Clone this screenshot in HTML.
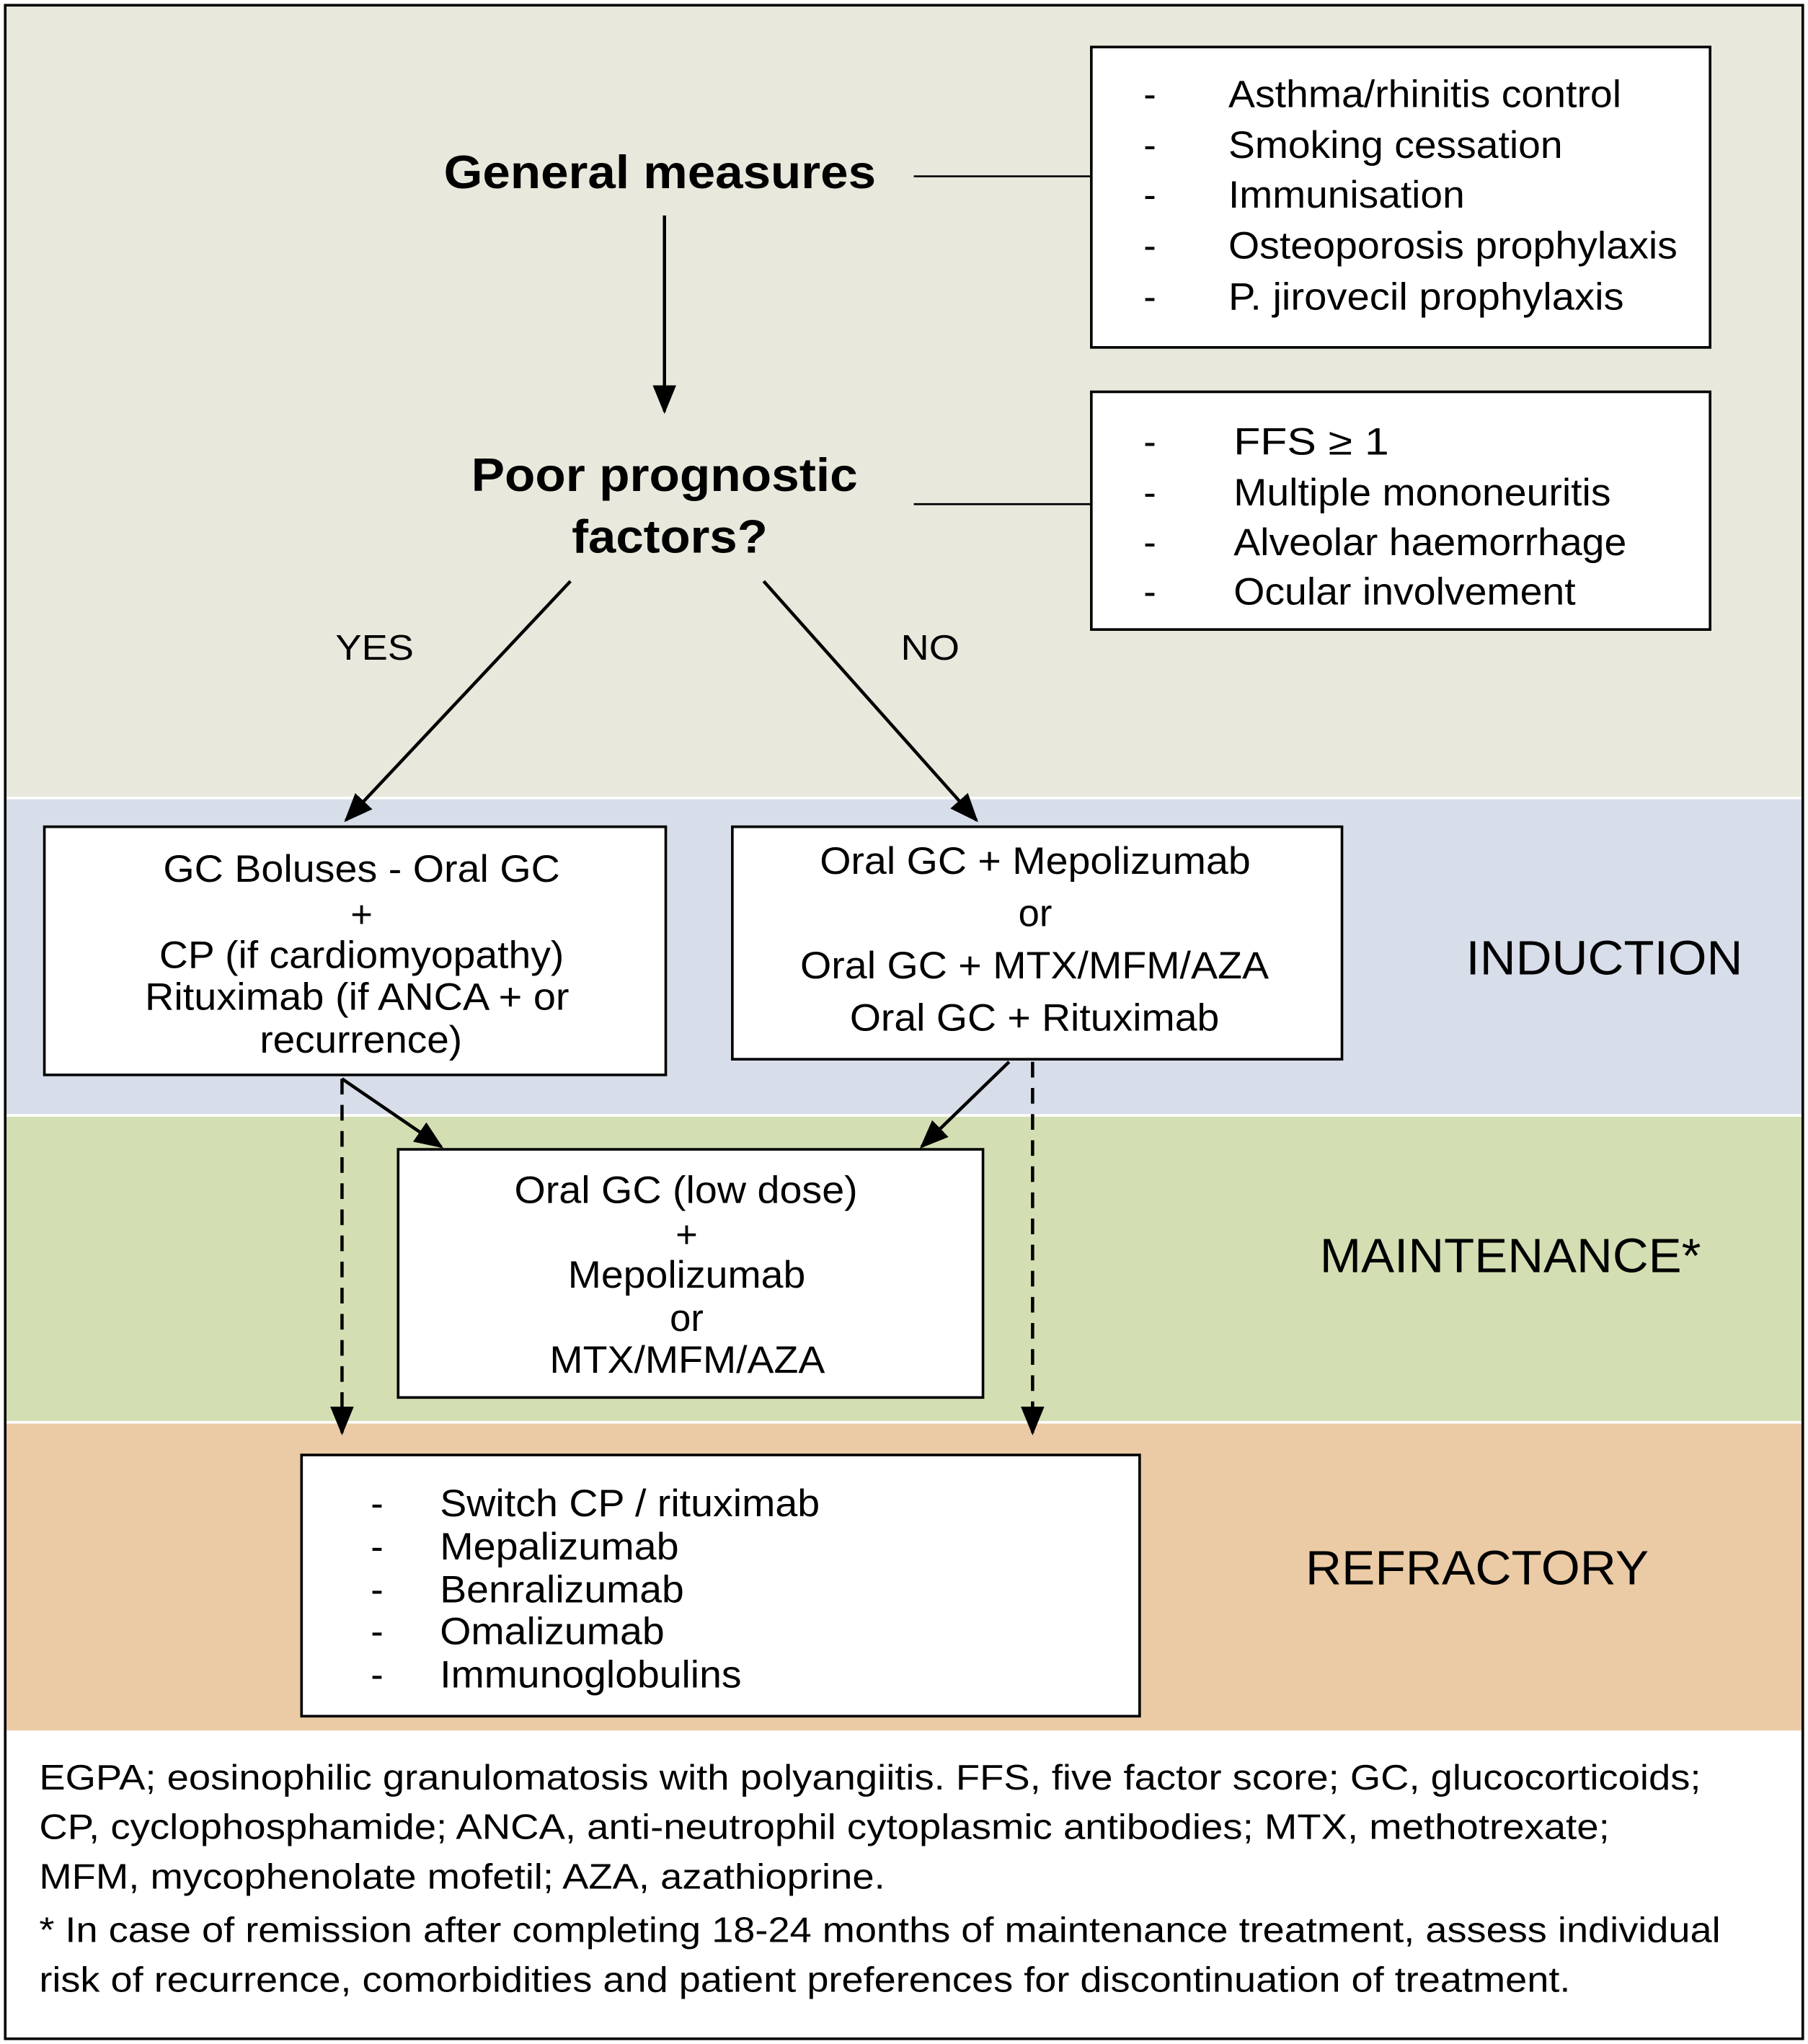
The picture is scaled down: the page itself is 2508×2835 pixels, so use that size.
<!DOCTYPE html>
<html><head><meta charset="utf-8"><style>
html,body{margin:0;padding:0;background:#fff}
svg{display:block}
text{font-family:"Liberation Sans",Arial,sans-serif;fill:#000}
</style></head><body>
<svg width="2508" height="2835" viewBox="0 0 1385 1565" preserveAspectRatio="none" xmlns="http://www.w3.org/2000/svg">
<defs>
<marker id="ah2" markerWidth="22" markerHeight="22" refX="20" refY="11" orient="auto" markerUnits="userSpaceOnUse" viewBox="0 0 22 22">
<path d="M0,2 L22,11 L0,20 z" fill="#000"/></marker>
</defs>
<rect x="0" y="0" width="1385" height="1565" fill="#fff"/>
<rect x="4" y="4" width="1377" height="606" fill="#e9e8dc"/>
<rect x="4" y="612" width="1377" height="241" fill="#d7dde9"/>
<rect x="4" y="855" width="1377" height="233" fill="#d3dfb3"/>
<rect x="4" y="1090" width="1377" height="235" fill="#ebcba5"/>
<rect x="4" y="4" width="1377" height="1557" fill="none" stroke="#000" stroke-width="2"/>

<g lengthAdjust="spacingAndGlyphs">
<rect x="836" y="36" width="474" height="230" fill="#fff" stroke="#000" stroke-width="2"/>
<g font-size="29">
<text x="876" y="82">-</text><text x="941" y="82" textLength="301" lengthAdjust="spacingAndGlyphs">Asthma/rhinitis control</text>
<text x="876" y="121">-</text><text x="941" y="121" textLength="256" lengthAdjust="spacingAndGlyphs">Smoking cessation</text>
<text x="876" y="159">-</text><text x="941" y="159" textLength="181" lengthAdjust="spacingAndGlyphs">Immunisation</text>
<text x="876" y="198">-</text><text x="941" y="198" textLength="344" lengthAdjust="spacingAndGlyphs">Osteoporosis prophylaxis</text>
<text x="876" y="237">-</text><text x="941" y="237" textLength="303" lengthAdjust="spacingAndGlyphs">P. jirovecil prophylaxis</text>
</g>
<rect x="836" y="300" width="474" height="182" fill="#fff" stroke="#000" stroke-width="2"/>
<g font-size="29">
<text x="876" y="348">-</text><text x="945" y="348" textLength="119" lengthAdjust="spacingAndGlyphs">FFS ≥ 1</text>
<text x="876" y="387">-</text><text x="945" y="387" textLength="289" lengthAdjust="spacingAndGlyphs">Multiple mononeuritis</text>
<text x="876" y="425">-</text><text x="945" y="425" textLength="301" lengthAdjust="spacingAndGlyphs">Alveolar haemorrhage</text>
<text x="876" y="463">-</text><text x="945" y="463" textLength="262" lengthAdjust="spacingAndGlyphs">Ocular involvement</text>
</g>

<text x="340" y="144" font-size="36" font-weight="bold" textLength="331" lengthAdjust="spacingAndGlyphs">General measures</text>
<line x1="700" y1="135" x2="836" y2="135" stroke="#000" stroke-width="1.5"/>
<line x1="509" y1="165" x2="509" y2="315" stroke="#000" stroke-width="2.5" marker-end="url(#ah2)"/>
<text x="361" y="376" font-size="36" font-weight="bold" textLength="296" lengthAdjust="spacingAndGlyphs">Poor prognostic</text>
<text x="438" y="423" font-size="36" font-weight="bold" textLength="150" lengthAdjust="spacingAndGlyphs">factors?</text>
<line x1="700" y1="386" x2="836" y2="386" stroke="#000" stroke-width="1.5"/>

<line x1="437" y1="445" x2="265" y2="628" stroke="#000" stroke-width="2.5" marker-end="url(#ah2)"/>
<line x1="585" y1="445" x2="748" y2="628" stroke="#000" stroke-width="2.5" marker-end="url(#ah2)"/>
<text x="257" y="505" font-size="27" textLength="60" lengthAdjust="spacingAndGlyphs">YES</text>
<text x="690" y="505" font-size="27" textLength="45" lengthAdjust="spacingAndGlyphs">NO</text>

<rect x="34" y="633" width="476" height="190" fill="#fff" stroke="#000" stroke-width="2"/>
<g font-size="29">
<text x="125" y="675" textLength="304" lengthAdjust="spacingAndGlyphs">GC Boluses - Oral GC</text>
<text x="277" y="710" text-anchor="middle">+</text>
<text x="122" y="741" textLength="310" lengthAdjust="spacingAndGlyphs">CP (if cardiomyopathy)</text>
<text x="111" y="773" textLength="325" lengthAdjust="spacingAndGlyphs">Rituximab (if ANCA + or</text>
<text x="199" y="806" textLength="155" lengthAdjust="spacingAndGlyphs">recurrence)</text>
</g>
<rect x="561" y="633" width="467" height="178" fill="#fff" stroke="#000" stroke-width="2"/>
<g font-size="29">
<text x="628" y="669" textLength="330" lengthAdjust="spacingAndGlyphs">Oral GC + Mepolizumab</text>
<text x="793" y="709" text-anchor="middle">or</text>
<text x="613" y="749" textLength="359" lengthAdjust="spacingAndGlyphs">Oral GC + MTX/MFM/AZA</text>
<text x="651" y="789" textLength="283" lengthAdjust="spacingAndGlyphs">Oral GC + Rituximab</text>
</g>
<text x="1123" y="746" font-size="37" textLength="212" lengthAdjust="spacingAndGlyphs">INDUCTION</text>

<line x1="262" y1="826" x2="338" y2="878" stroke="#000" stroke-width="2.5" marker-end="url(#ah2)"/>
<line x1="773" y1="813" x2="706" y2="878" stroke="#000" stroke-width="2.5" marker-end="url(#ah2)"/>
<line x1="262" y1="826" x2="262" y2="1097" stroke="#000" stroke-width="2.5" stroke-dasharray="12,8" marker-end="url(#ah2)"/>
<line x1="791" y1="813" x2="791" y2="1097" stroke="#000" stroke-width="2.5" stroke-dasharray="12,8" marker-end="url(#ah2)"/>

<rect x="305" y="880" width="448" height="190" fill="#fff" stroke="#000" stroke-width="2"/>
<g font-size="29">
<text x="394" y="921" textLength="263" lengthAdjust="spacingAndGlyphs">Oral GC (low dose)</text>
<text x="526" y="955" text-anchor="middle">+</text>
<text x="435" y="986" textLength="182" lengthAdjust="spacingAndGlyphs">Mepolizumab</text>
<text x="526" y="1019" text-anchor="middle">or</text>
<text x="421" y="1051" textLength="211" lengthAdjust="spacingAndGlyphs">MTX/MFM/AZA</text>
</g>
<text x="1011" y="974" font-size="37" textLength="292" lengthAdjust="spacingAndGlyphs">MAINTENANCE*</text>

<rect x="231" y="1114" width="642" height="200" fill="#fff" stroke="#000" stroke-width="2"/>
<g font-size="29">
<text x="284" y="1161">-</text><text x="337" y="1161" textLength="291" lengthAdjust="spacingAndGlyphs">Switch CP / rituximab</text>
<text x="284" y="1194">-</text><text x="337" y="1194" textLength="183" lengthAdjust="spacingAndGlyphs">Mepalizumab</text>
<text x="284" y="1227">-</text><text x="337" y="1227" textLength="187" lengthAdjust="spacingAndGlyphs">Benralizumab</text>
<text x="284" y="1259">-</text><text x="337" y="1259" textLength="172" lengthAdjust="spacingAndGlyphs">Omalizumab</text>
<text x="284" y="1292">-</text><text x="337" y="1292" textLength="231" lengthAdjust="spacingAndGlyphs">Immunoglobulins</text>
</g>
<text x="1000" y="1213" font-size="37" textLength="263" lengthAdjust="spacingAndGlyphs">REFRACTORY</text>

<g font-size="27">
<text x="30" y="1370" textLength="1273" lengthAdjust="spacingAndGlyphs">EGPA; eosinophilic granulomatosis with polyangiitis. FFS, five factor score; GC, glucocorticoids;</text>
<text x="30" y="1408" textLength="1203" lengthAdjust="spacingAndGlyphs">CP, cyclophosphamide; ANCA, anti-neutrophil cytoplasmic antibodies; MTX, methotrexate;</text>
<text x="30" y="1446" textLength="648" lengthAdjust="spacingAndGlyphs">MFM, mycophenolate mofetil; AZA, azathioprine.</text>
<text x="30" y="1487" textLength="1288" lengthAdjust="spacingAndGlyphs">* In case of remission after completing 18-24 months of maintenance treatment, assess individual</text>
<text x="30" y="1525" textLength="1173" lengthAdjust="spacingAndGlyphs">risk of recurrence, comorbidities and patient preferences for discontinuation of treatment.</text>
</g>
</g>
</svg>
</body></html>
